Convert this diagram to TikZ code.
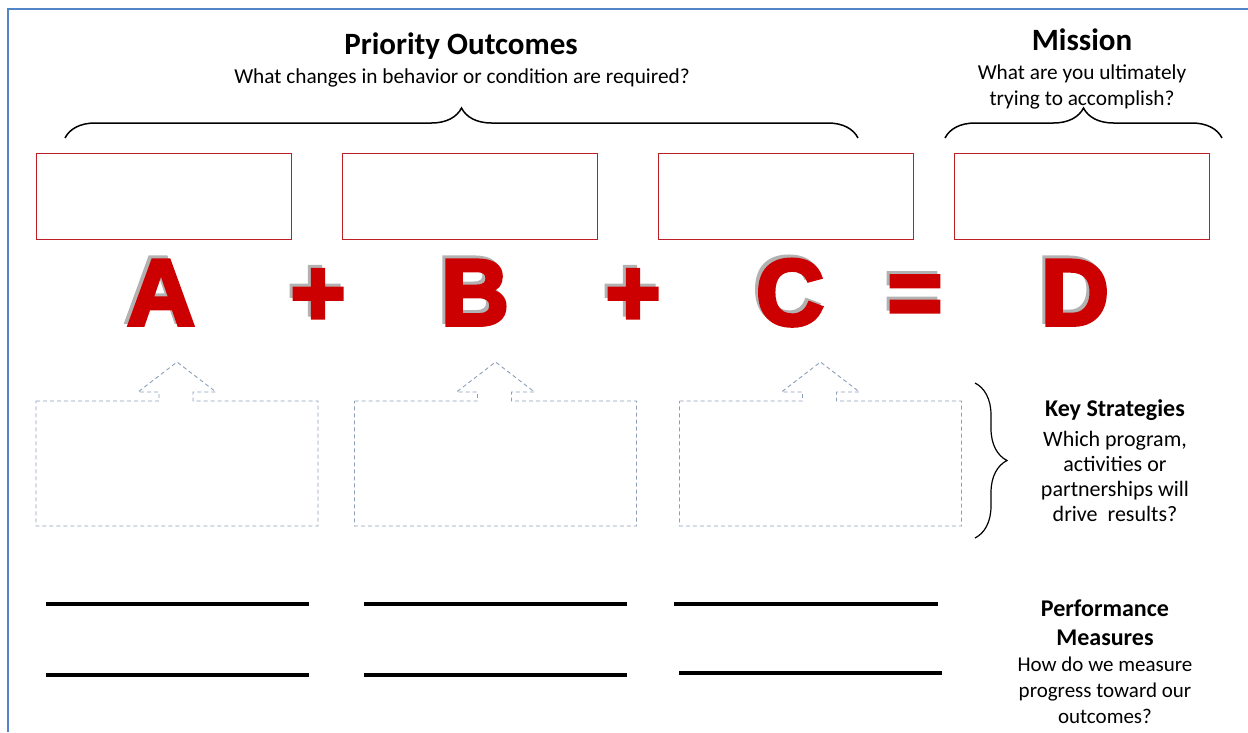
\documentclass[tikz,border=0pt]{standalone}
\usepackage{fontspec}
\setmainfont{Carlito}
\newfontfamily\heavyfont{Liberation Sans}[BoldFeatures={FakeBold=4}]
\usetikzlibrary{decorations.pathreplacing, positioning}

\definecolor{frameblue}{RGB}{84,132,200}
\definecolor{boxred}{RGB}{190,30,40}
\definecolor{letterred}{RGB}{204,0,0}
\definecolor{shadegray}{RGB}{178,178,178}
\definecolor{dashblue}{RGB}{140,158,186}

\begin{document}
\begin{tikzpicture}[x=1pt, y=-1pt,
    outbox/.style={draw=boxred, line width=1pt, minimum width=255pt, minimum height=86pt, inner sep=0pt},
    bigletter/.style={text=letterred, font=\fontsize{94}{94}\selectfont\heavyfont\bfseries, anchor=base, inner sep=0pt},
    shadowletter/.style={bigletter, text=shadegray},
    heading/.style={font=\fontsize{31}{37}\selectfont\bfseries, anchor=base, inner sep=0pt},
    question/.style={font=\fontsize{21.3}{25.5}\selectfont, align=center, anchor=north, inner sep=0pt},
    sidenote/.style={font=\fontsize{22}{25}\selectfont, align=center, anchor=north, inner sep=0pt},
    curly/.style={decorate, decoration={brace, amplitude=30pt}, line width=1.5pt},
    callout/.style={draw=dashblue, dash pattern=on 4pt off 3pt, line width=0.9pt},
    measure/.style={line width=4pt}]
    \useasboundingbox (0,0) rectangle (1248,732);

    % Frame
    \draw[frameblue, line width=2pt] (8,732) -- (8,9) -- (1248,9);

    % Headings
    \node[heading] (po) at (461,54) {Priority Outcomes};
    \node[question] (poq) at (462,69) {What changes in behavior or condition are required?};
    \node[heading] (mi) at (1082,50) {Mission};
    \node[question] (miq) at (1082,65) {What are you ultimately\\trying to accomplish?};

    % Braces
    \coordinate (pol) at (65,138);
    \coordinate (por) at (858,138);
    \coordinate (mil) at (945,138);
    \coordinate (mir) at (1222,138);
    \draw[curly] (pol) -- (por);
    \draw[curly] (mil) -- (mir);

    % Outcome boxes
    \node[outbox] (oa) at (163.5,196) {};
    \node[outbox, right=50pt of oa] (ob) {};
    \node[outbox, right=60pt of ob] (oc) {};
    \node[outbox, right=40pt of oc] (od) {};

    % The equation
    \node[shadowletter] (sa) at (158,322) {A};
    \node[bigletter] (la) at (161,325) {A};
    \node[shadowletter] (sp1) at (315,322) {+};
    \node[bigletter] (lp1) at (318,325) {+};
    \node[shadowletter] (sb) at (472,322) {B};
    \node[bigletter] (lb) at (475,325) {B};
    \node[shadowletter] (sp2) at (630,322) {+};
    \node[bigletter] (lp2) at (633,325) {+};
    \node[shadowletter] (sc) at (787,322) {C};
    \node[bigletter] (lc) at (790,325) {C};
    \node[shadowletter] (se) at (912,322) {=};
    \node[bigletter] (le) at (915,325) {=};
    \node[shadowletter] (sd) at (1072,322) {D};
    \node[bigletter] (ld) at (1075,325) {D};

    % Strategy boxes
    \draw[callout] (36,401) -- ++(123,0) -- ++(0,-9) -- ++(-21,0) -- ++(39,-30) -- ++(39,30)
        -- ++(-23,0) -- ++(0,9) -- ++(125,0) -- ++(0,125) -- ++(-282,0) -- cycle;
    \draw[callout] (354.5,401) -- ++(123,0) -- ++(0,-9) -- ++(-21,0) -- ++(39,-30) -- ++(39,30)
        -- ++(-23,0) -- ++(0,9) -- ++(125,0) -- ++(0,125) -- ++(-282,0) -- cycle;
    \draw[callout] (679.5,401) -- ++(123,0) -- ++(0,-9) -- ++(-21,0) -- ++(39,-30) -- ++(39,30)
        -- ++(-23,0) -- ++(0,9) -- ++(125,0) -- ++(0,125) -- ++(-282,0) -- cycle;

    \coordinate (kst) at (975,383);
    \coordinate (ksb) at (975,538);
    \draw[curly, line width=1.2pt, decoration={amplitude=32pt}] (kst) -- (ksb);
    \node[sidenote] (ks) at (1115,399) {\textbf{\fontsize{24}{25}\selectfont Key Strategies}\\[5pt]Which program,\\activities or\\partnerships will\\drive\ \ results?};

    % Measure lines
    \draw[measure] (46,604) -- (309,604);
    \draw[measure] (364,604) -- (627,604);
    \draw[measure] (674,604) -- (938,604);
    \draw[measure] (46,675) -- (309,675);
    \draw[measure] (364,675) -- (627,675);
    \draw[measure] (679,673) -- (942,673);

    \node[sidenote, font=\fontsize{21}{26}\selectfont] (pm) at (1105,600) {\textbf{\fontsize{24}{26}\selectfont Performance}\\[3pt]\textbf{\fontsize{24}{26}\selectfont Measures}\\How do we measure\\progress toward our\\outcomes?};
\end{tikzpicture}
\end{document}
